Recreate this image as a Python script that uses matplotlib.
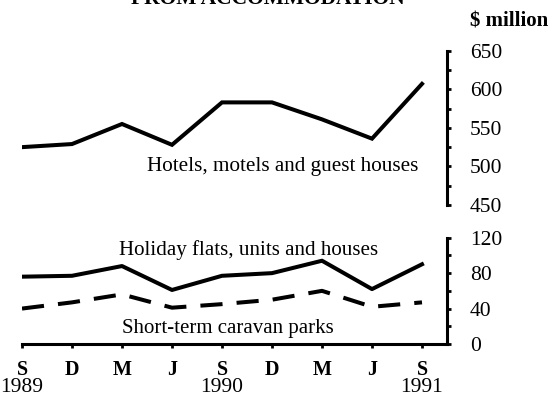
import matplotlib.pyplot as plt
from matplotlib.ticker import MultipleLocator

plt.rcParams['font.family'] = ['Liberation Serif', 'DejaVu Serif']

W, H = 548, 413
fig = plt.figure(figsize=(5.48, 4.13), dpi=100)


def fx(px):
    return px / W


def fy(py):
    return 1 - py / H


months = ['S', 'D', 'M', 'J', 'S', 'D', 'M', 'J', 'S']
years = ['1989', '', '', '', '1990', '', '', '', '1991']
hotels = [525, 529, 555, 528, 583, 583, 561, 536, 607]
holiday = [76, 77, 88, 61, 77, 80, 94, 62, 90]
caravan = [40, 47, 56, 41, 45, 50, 60, 42, 47]
upper_ticks = [450, 500, 550, 600, 650]
lower_ticks = [0, 40, 80, 120]

x = list(range(len(months)))

ax1 = fig.add_axes([fx(22), fy(205), (447 - 22) / W, (205 - 50.7) / H])
ax2 = fig.add_axes([fx(22), fy(344), (447 - 22) / W, (344 - 237.7) / H])

for ax in (ax1, ax2):
    ax.set_xlim(0, 8.5)
    ax.patch.set_visible(False)
    for s in ['top', 'left']:
        ax.spines[s].set_visible(False)
    ax.yaxis.tick_right()
    ax.spines['right'].set_linewidth(2.2)
    ax.spines['right'].set_capstyle('projecting')
    ax.tick_params(axis='y', which='both', direction='out', length=3,
                   width=2, pad=13.5, labelsize=15.5)

ax1.spines['bottom'].set_visible(False)
ax1.set_xticks([])
ax1.set_ylim(450, 650)
ax1.set_yticks(upper_ticks)
ax1.yaxis.set_minor_locator(MultipleLocator(25))
ax1.plot(x, hotels, color='black', lw=2.9, solid_joinstyle='miter')

ax2.set_ylim(0, 120)
ax2.set_yticks(lower_ticks)
ax2.yaxis.set_minor_locator(MultipleLocator(20))
ax2.spines['bottom'].set_linewidth(2.2)
ax2.set_xticks(x, [''] * len(x))
ax2.tick_params(axis='x', direction='out', length=3, width=2)
ax2.plot(x, holiday, color='black', lw=2.9)
ax2.plot(x, caravan, color='black', lw=2.9, dashes=(5.5, 3.5))

trans = ax2.get_xaxis_transform()
for i, mo, yr in zip(x, months, years):
    ax2.text(i, -(375 - 344) / 106.3, mo, transform=trans, ha='center',
             va='baseline', fontsize=14.5, fontweight='bold')
    if yr:
        ax2.text(i, -(392 - 344) / 106.3, yr, transform=trans,
                 ha='center', va='baseline', fontsize=15.5)

fig.text(fx(268), fy(4.5), 'FROM ACCOMMODATION', ha='center',
         va='baseline', fontsize=15.5, fontweight='bold')
fig.text(fx(470), fy(22), '$ million', ha='left', va='center',
         fontsize=15, fontweight='bold')
fig.text(fx(147), fy(167), 'Hotels, motels and guest houses', ha='left',
         va='center', fontsize=15.2)
fig.text(fx(119), fy(250), 'Holiday flats, units and houses', ha='left',
         va='center', fontsize=15.1)
fig.text(fx(122), fy(328), 'Short-term caravan parks', ha='left',
         va='center', fontsize=15)

fig.savefig('out.png', dpi=100)
